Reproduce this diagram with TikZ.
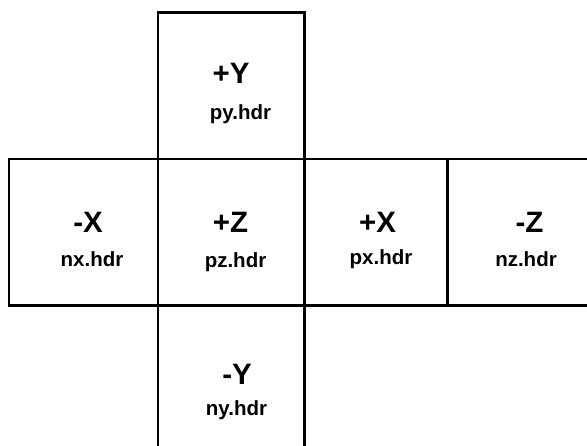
\documentclass[tikz,border=0pt]{standalone}
\usepackage{fontspec}
\setmainfont{Liberation Sans}
\begin{document}
\begin{tikzpicture}[x=1pt,y=1pt,
  cell/.style={draw=black, line width=2.8pt, rectangle, inner sep=0pt, anchor=south west},
  big/.style={inner sep=0pt, anchor=base, font=\bfseries\fontsize{29.5}{30}\selectfont},
  small/.style={inner sep=0pt, anchor=base, font=\bfseries\fontsize{20.5}{21}\selectfont}]
\useasboundingbox (0,0) rectangle (587,445);
\begin{scope}
\clip (0,0) rectangle (587,445);
% cells
\node[cell, minimum width=146.5pt, minimum height=146.5pt] (cpy) at (156.5,284.5) {};
\node[cell, minimum width=149pt, minimum height=146.5pt] (cnx) at (7.5,138) {};
\node[cell, minimum width=146.5pt, minimum height=146.5pt] (cpz) at (156.5,138) {};
\node[cell, minimum width=143pt, minimum height=146.5pt] (cpx) at (303,138) {};
\node[cell, minimum width=146.5pt, minimum height=146.5pt] (cnz) at (446,138) {};
\node[cell, minimum width=146.5pt, minimum height=146.5pt] (cny) at (156.5,-8.5) {};
\end{scope}
% labels
\node[big] (ty) at (231,361) {+Y};
\node[small] (fy) at (240.5,325) {py.hdr};
\node[big] (tnx) at (88,212.5) {-X};
\node[small] (fnx) at (92,178) {nx.hdr};
\node[big] (tz) at (230.5,212.5) {+Z};
\node[small] (fz) at (235.5,177) {pz.hdr};
\node[big] (tx) at (377.5,212.5) {+X};
\node[small] (fx) at (381,180) {px.hdr};
\node[big] (tnz) at (529.5,212.5) {-Z};
\node[small] (fnz) at (526,178) {nz.hdr};
\node[big] (tny) at (237,60.7) {-Y};
\node[small] (fny) at (236.5,30) {ny.hdr};
\end{tikzpicture}
\end{document}
